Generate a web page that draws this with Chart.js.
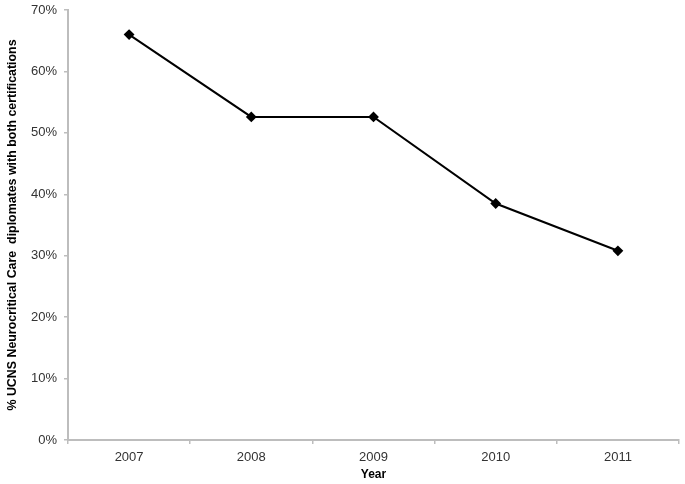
<!DOCTYPE html>
<html lang="en">
<head>
  <meta charset="UTF-8">
  <title>UCNS diplomates</title>
  <script src="https://cdn.jsdelivr.net/npm/chart.js"></script>
  <style>
    html, body { margin: 0; padding: 0; background: #ffffff; }
    #wrap { width: 685px; height: 484px; }
  </style>
</head>
<body>
  <div id="wrap"><canvas id="lineChart" width="685" height="484"></canvas></div>
  <script>
    // Values
    const years = ['2007', '2008', '2009', '2010', '2011'];
    const pctBoth = [66.0, 52.6, 52.6, 38.5, 30.8];
    const yTicks = [0, 10, 20, 30, 40, 50, 60, 70];

    const axisGray = '#bdbdbd';
    const font = { family: '"Liberation Sans", Arial, sans-serif', size: 13 };

    new Chart(document.getElementById('lineChart'), {
      type: 'line',
      data: {
        labels: years,
        datasets: [{
          data: pctBoth,
          borderColor: '#000000',
          backgroundColor: '#000000',
          borderWidth: 2,
          pointStyle: 'rectRot',
          pointRadius: 4,
          pointHoverRadius: 4,
          tension: 0
        }]
      },
      options: {
        responsive: false,
        animation: false,
        layout: { padding: { top: 10, right: 5, left: 0, bottom: 0 } },
        plugins: { legend: { display: false }, tooltip: { enabled: false } },
        scales: {
          x: {
            offset: true,
            grid: { drawOnChartArea: false, offset: true, color: axisGray, tickLength: 4, lineWidth: 1.5 },
            border: { color: axisGray, width: 2 },
            ticks: { font: font, color: '#333', padding: 6 },
            title: { display: true, text: 'Year', font: { family: font.family, size: 12, weight: 'bold' }, color: '#000', padding: { top: 0, bottom: 2 } },
            afterFit: s => { s.height = 44; s.paddingLeft = 0; s.paddingRight = 0; }
          },
          y: {
            min: 0,
            max: 70,
            afterBuildTicks: s => { s.ticks = yTicks.map(v => ({ value: v })); },
            grid: { drawOnChartArea: false, color: axisGray, tickLength: 4, lineWidth: 1.5 },
            border: { color: axisGray, width: 2 },
            ticks: { font: font, color: '#333', padding: 7, callback: v => v + '%' },
            title: { display: true, text: '% UCNS Neurocritical Care  diplomates with both certifications', font: { family: font.family, size: 12.4, weight: 'bold' }, color: '#000', padding: { top: 5, bottom: 0 } },
            afterFit: s => { s.width = 68; s.paddingTop = 0; s.paddingBottom = 0; }
          }
        }
      }
    });
  </script>
</body>
</html>
